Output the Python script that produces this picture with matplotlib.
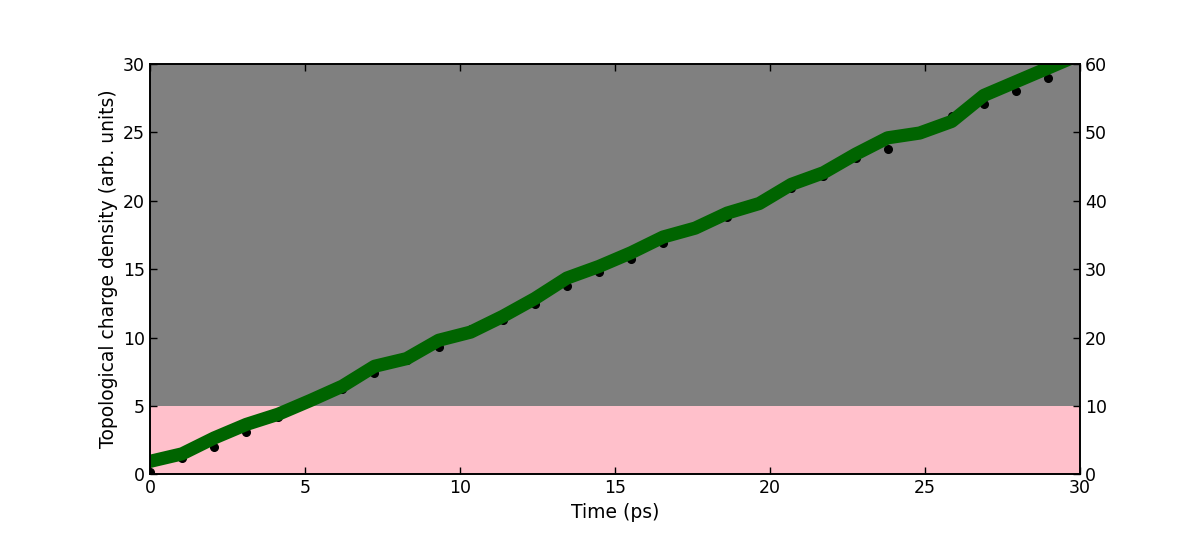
import numpy as np
import matplotlib
matplotlib.use("Agg")
import matplotlib.pyplot as plt

# Data
time_line = [i * 30 / 29 for i in range(30)]
charge_line = [0.95, 1.5, 2.66, 3.65, 4.4, 5.4, 6.45, 7.9, 8.46, 9.8,
               10.4, 11.55, 12.85, 14.35, 15.2, 16.2, 17.35, 18.0, 19.1, 19.8,
               21.2, 22.05, 23.4, 24.6, 24.95, 25.8, 27.7, 28.7, 29.7, 30.7]
time_pts = [i * 30 / 29 for i in range(29)]
charge_pts = [0.2, 1.2, 1.97, 3.12, 4.2, 5.35, 6.25, 7.38, 8.35, 9.3,
              10.6, 11.25, 12.45, 13.75, 14.8, 15.75, 16.88, 18.0, 18.8, 19.8,
              20.95, 21.8, 23.1, 23.82, 24.9, 26.2, 27.05, 28.0, 28.97]
threshold = 5
ymax_left = 30
ymax_right = 60
xticks = [0, 5, 10, 15, 20, 25, 30]
yticks_left = [0, 5, 10, 15, 20, 25, 30]
yticks_right = [0, 10, 20, 30, 40, 50, 60]

plt.rcParams['font.family'] = ['DejaVu Sans']
fig = plt.figure(figsize=(12, 5.33), dpi=100)
ax = fig.add_subplot(111)
fig.subplots_adjust(left=0.125, right=0.9, bottom=0.11, top=0.88)

ax.axhspan(0, threshold, color='pink', zorder=0, lw=0)
ax.axhspan(threshold, ymax_left, color='gray', zorder=0, lw=0)
ax.plot(time_line, charge_line, color='darkgreen', lw=9.5, zorder=2)
ax.plot(time_pts, charge_pts, 'o', color='black', ms=5.5, zorder=1)

ax.set_xlim(0, 30)
ax.set_ylim(0, ymax_left)
ax.set_xticks(xticks)
ax.set_yticks(yticks_left)
ax.set_xlabel('Time (ps)', fontsize=13.5)
ax.set_ylabel('Topological charge density (arb. units)', fontsize=13.5)
ax.tick_params(direction='in', length=5, width=1, labelsize=12.5, top=True, right=False)

ax2 = ax.twinx()
ax2.set_ylim(0, ymax_right)
ax2.set_yticks(yticks_right)
ax2.tick_params(direction='in', length=5, width=1, labelsize=12.5)

for a in (ax, ax2):
    for s in a.spines.values():
        s.set_linewidth(1.2)

fig.savefig('out.png', dpi=100)
